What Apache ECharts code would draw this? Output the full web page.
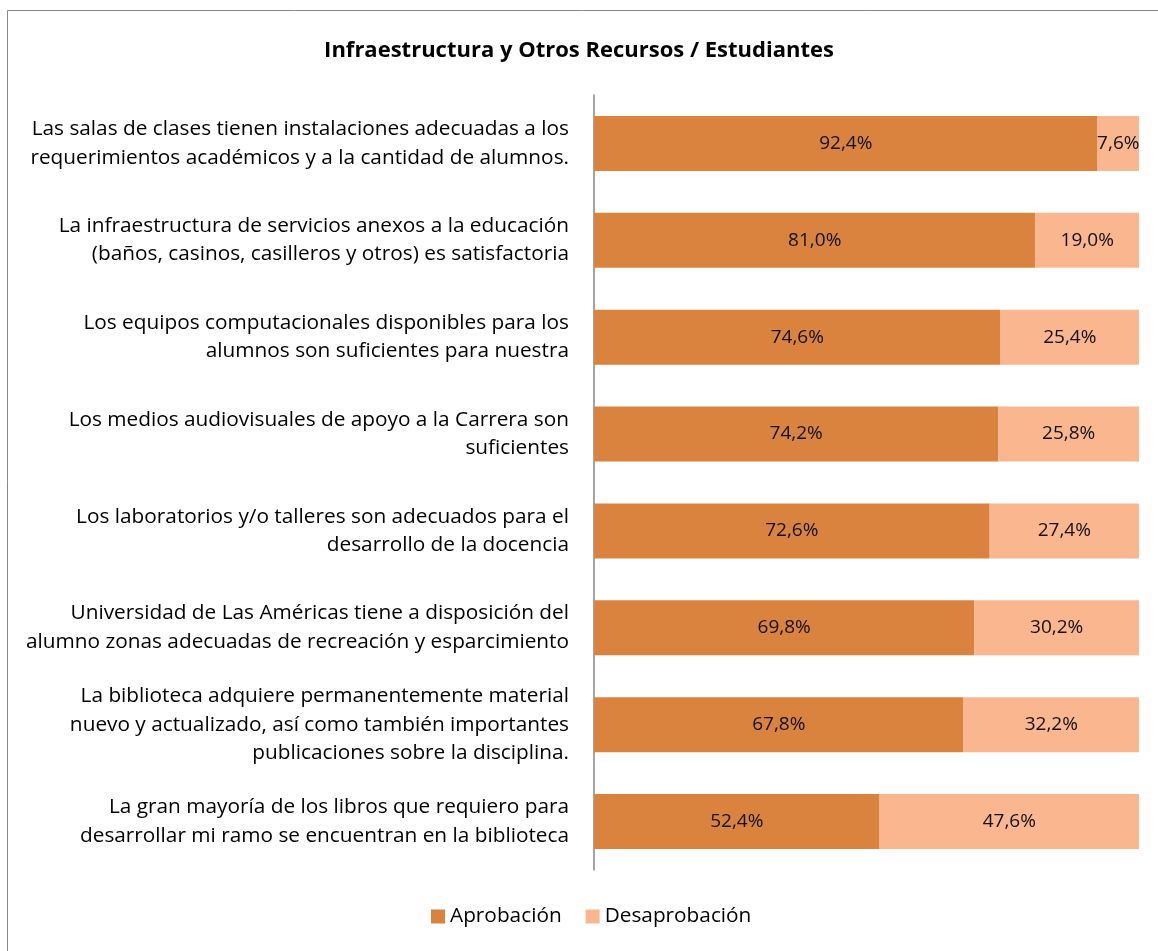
<!DOCTYPE html>
<html>
<head>
<meta charset="utf-8">
<script src="https://cdn.jsdelivr.net/npm/echarts@6/dist/echarts.min.js"></script>
<style>
  html, body { margin: 0; padding: 0; background: #fff; }
  #chart { width: 1158px; height: 951px; }
</style>
</head>
<body>
<div id="chart"></div>
<script>
const categories = [
  "Las salas de clases tienen instalaciones adecuadas a los\nrequerimientos académicos y a la cantidad de alumnos.",
  "La infraestructura de servicios anexos a la educación\n(baños, casinos, casilleros y otros) es satisfactoria",
  "Los equipos computacionales disponibles para los\nalumnos son suficientes para nuestra",
  "Los medios audiovisuales de apoyo a la Carrera son\nsuficientes",
  "Los laboratorios y/o talleres son adecuados para el\ndesarrollo de la docencia",
  "Universidad de Las Américas tiene a disposición del\nalumno zonas adecuadas de recreación y esparcimiento",
  "La biblioteca adquiere permanentemente material\nnuevo y actualizado, así como también importantes\npublicaciones sobre la disciplina.",
  "La gran mayoría de los libros que requiero para\ndesarrollar mi ramo se encuentran en la biblioteca"
];
const aprobacion = [92.4, 81.0, 74.6, 74.2, 72.6, 69.8, 67.8, 52.4];
const desaprobacion = [7.6, 19.0, 25.4, 25.8, 27.4, 30.2, 32.2, 47.6];

const fmt = p => p.value.toFixed(1).replace('.', ',') + '%';
const font = '"Open Sans", "Noto Sans", sans-serif';

const chart = echarts.init(document.getElementById('chart'));
chart.setOption({
  animation: false,
  backgroundColor: '#fff',
  graphic: [{
    type: 'rect',
    shape: { x: 7.5, y: 10.5, width: 1160, height: 950 },
    style: { fill: 'none', stroke: '#898989', lineWidth: 1 }
  }],
  title: {
    text: 'Infraestructura y Otros Recursos / Estudiantes',
    left: 'center',
    top: 35,
    textStyle: { fontFamily: font, fontSize: 22, fontWeight: 'bold', color: '#000' }
  },
  legend: {
    bottom: 19,
    left: 426,
    itemWidth: 14,
    itemHeight: 14,
    itemGap: 24,
    icon: 'rect',
    textStyle: { fontFamily: font, fontSize: 20.8, color: '#000' },
    data: ['Aprobación', 'Desaprobación']
  },
  grid: { left: 594, right: 19, top: 95, bottom: 81 },
  xAxis: {
    type: 'value',
    min: 0, max: 100,
    show: false
  },
  yAxis: {
    type: 'category',
    inverse: true,
    data: categories,
    axisLine: { show: true, lineStyle: { color: '#868686', width: 1.5 } },
    axisTick: { show: false },
    axisLabel: {
      margin: 25,
      fontFamily: font,
      fontSize: 20.8,
      lineHeight: 28.5,
      color: '#000',
      align: 'right'
    }
  },
  series: [
    {
      name: 'Aprobación',
      type: 'bar',
      stack: 'total',
      barWidth: 55,
      data: aprobacion,
      itemStyle: { color: '#DA833F' },
      label: { show: true, position: 'inside', formatter: fmt, fontFamily: font, fontSize: 19, color: '#111' }
    },
    {
      name: 'Desaprobación',
      type: 'bar',
      stack: 'total',
      barWidth: 55,
      data: desaprobacion,
      itemStyle: { color: '#F9B68F' },
      label: { show: true, position: 'inside', formatter: fmt, fontFamily: font, fontSize: 19, color: '#111' }
    }
  ]
});
</script>
</body>
</html>
